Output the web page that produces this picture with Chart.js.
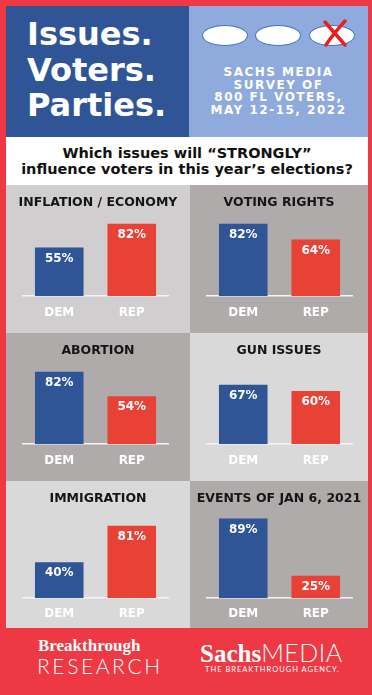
<!DOCTYPE html>
<html>
<head>
<meta charset="utf-8">
<script src="https://cdn.jsdelivr.net/npm/chart.js@4"></script>
<style>
  body { margin: 0; background: #ee3843; }
  #page { position: relative; width: 372px; height: 695px; overflow: hidden; background: #ee3843; font-family: "DejaVu Sans", sans-serif; }
  .box { position: absolute; }
  .panel { position: absolute; }
  .panel canvas { display: block; }
  #head1 { left: 6px; top: 6px; width: 183px; height: 131px; background: #2f5597; }
  #head2 { left: 189px; top: 6px; width: 179px; height: 131px; background: #8faadc; }
  #bigTitle { position: absolute; left: 21px; top: 11px; color: #fff; font-weight: bold; font-size: 32px; line-height: 35.5px; }
  .oval { position: absolute; top: 19px; width: 44px; height: 19px; border: 1px solid #4472c4; border-radius: 50%; background: #fff; }
  #survey { position: absolute; left: 0; top: 60px; width: 179px; text-align: center; color: #fff; font-weight: bold; font-size: 12px; line-height: 12.6px; letter-spacing: 1.5px; }
  #question { left: 6px; top: 137px; width: 362px; height: 48px; background: #fff; text-align: center; font-weight: bold; font-size: 14.5px; line-height: 16px; color: #111; }
  #question div { padding-top: 8px; }
  #footer { left: 0; top: 628px; width: 372px; height: 67px; background: #ee3843; color: #fff; }
</style>
</head>
<body>
<div id="page">
  <div class="box" id="head1">
    <div id="bigTitle">Issues.<br>Voters.<br>Parties.</div>
  </div>
  <div class="box" id="head2">
    <div class="oval" style="left:13px"></div>
    <div class="oval" style="left:66px"></div>
    <div class="oval" style="left:120px"></div>
    <svg style="position:absolute;left:132px;top:13px" width="28" height="28">
      <path d="M4 3 L24 26 M24 2 C18 9 10 18 5 26" stroke="#e8211f" stroke-width="3.5" fill="none" stroke-linecap="round"/>
    </svg>
    <div id="survey">SACHS MEDIA<br>SURVEY OF<br>800 FL VOTERS,<br>MAY 12-15, 2022</div>
  </div>
  <div class="box" id="question"><div>Which issues will “STRONGLY”<br>influence voters in this year’s elections?</div></div>

  <div class="panel" style="left:6px;top:185px;background:#d0cece"><canvas id="c0" width="184" height="148"></canvas></div>
  <div class="panel" style="left:190px;top:185px;background:#afabab"><canvas id="c1" width="178" height="148"></canvas></div>
  <div class="panel" style="left:6px;top:333px;background:#afabab"><canvas id="c2" width="184" height="148"></canvas></div>
  <div class="panel" style="left:190px;top:333px;background:#d9d9d9"><canvas id="c3" width="178" height="148"></canvas></div>
  <div class="panel" style="left:6px;top:481px;background:#d9d9d9"><canvas id="c4" width="184" height="147"></canvas></div>
  <div class="panel" style="left:190px;top:481px;background:#afabab"><canvas id="c5" width="178" height="147"></canvas></div>

  <div class="box" id="footer">
    <div style="position:absolute;left:38px;top:8px;font-family:'Liberation Serif',serif;font-weight:bold;font-size:17px;">Breakthrough</div>
    <div style="position:absolute;left:37px;top:25px;font-family:Lato,sans-serif;font-weight:300;font-size:21px;letter-spacing:2.6px;">RESEARCH</div>
    <div style="position:absolute;left:200px;top:9px;font-size:25px;white-space:nowrap;"><span style="font-family:'Liberation Serif',serif;font-weight:bold;">Sachs</span><span style="font-family:Lato,sans-serif;font-weight:300;letter-spacing:0.5px;">MEDIA</span></div>
    <div style="position:absolute;left:205px;top:37px;font-family:Lato,sans-serif;font-size:7.5px;letter-spacing:1px;white-space:nowrap;">THE BREAKTHROUGH AGENCY.</div>
  </div>
</div>

<script>
const parties = ['DEM', 'REP'];
const issues = ['INFLATION / ECONOMY', 'VOTING RIGHTS', 'ABORTION', 'GUN ISSUES', 'IMMIGRATION', 'EVENTS OF JAN 6, 2021'];
const demValues = [55, 82, 82, 67, 40, 89];
const repValues = [82, 64, 54, 60, 81, 25];
const partyColors = ['#2f5597', '#e84135'];

// panel heading across the full panel width + white % label under each bar top
const panelText = {
  id: 'panelText',
  afterDatasetsDraw(chart, args, opts) {
    const ctx = chart.ctx;
    ctx.save();
    ctx.textAlign = 'center';
    ctx.textBaseline = 'middle';
    ctx.fillStyle = '#151515';
    ctx.font = 'bold 12.5px "DejaVu Sans"';
    ctx.fillText(opts.title, chart.width / 2, 18);
    ctx.fillStyle = '#fff';
    ctx.font = 'bold 12px "DejaVu Sans"';
    chart.getDatasetMeta(0).data.forEach((bar, i) => {
      ctx.fillText(chart.data.datasets[0].data[i] + '%', bar.x, bar.y + 11);
    });
    ctx.restore();
  }
};

function makeChart(i) {
  const canvas = document.getElementById('c' + i);
  const lastRow = i >= 4;
  new Chart(canvas, {
    type: 'bar',
    data: {
      labels: parties,
      datasets: [{
        data: [demValues[i], repValues[i]],
        backgroundColor: partyColors,
        barPercentage: 0.67,
        categoryPercentage: 1
      }]
    },
    options: {
      responsive: false,
      animation: false,
      layout: {
        padding: { left: 17, right: canvas.width - 162, top: lastRow ? 30.4 : 25.4, bottom: 0 }
      },
      scales: {
        x: {
          grid: { display: false, drawTicks: false },
          border: { display: true, color: '#f4f4f4', width: 1.5 },
          ticks: { color: '#fff', padding: lastRow ? 9 : 10, font: { family: 'DejaVu Sans', weight: 'bold', size: 12 } },
          afterFit(scale) { scale.height = lastRow ? 30 : 37; }
        },
        y: { display: false, min: 0, max: 97 }
      },
      plugins: {
        legend: { display: false },
        tooltip: { enabled: false },
        panelText: { title: issues[i] }
      }
    },
    plugins: [panelText]
  });
}

for (let i = 0; i < issues.length; i++) makeChart(i);
</script>
</body>
</html>
